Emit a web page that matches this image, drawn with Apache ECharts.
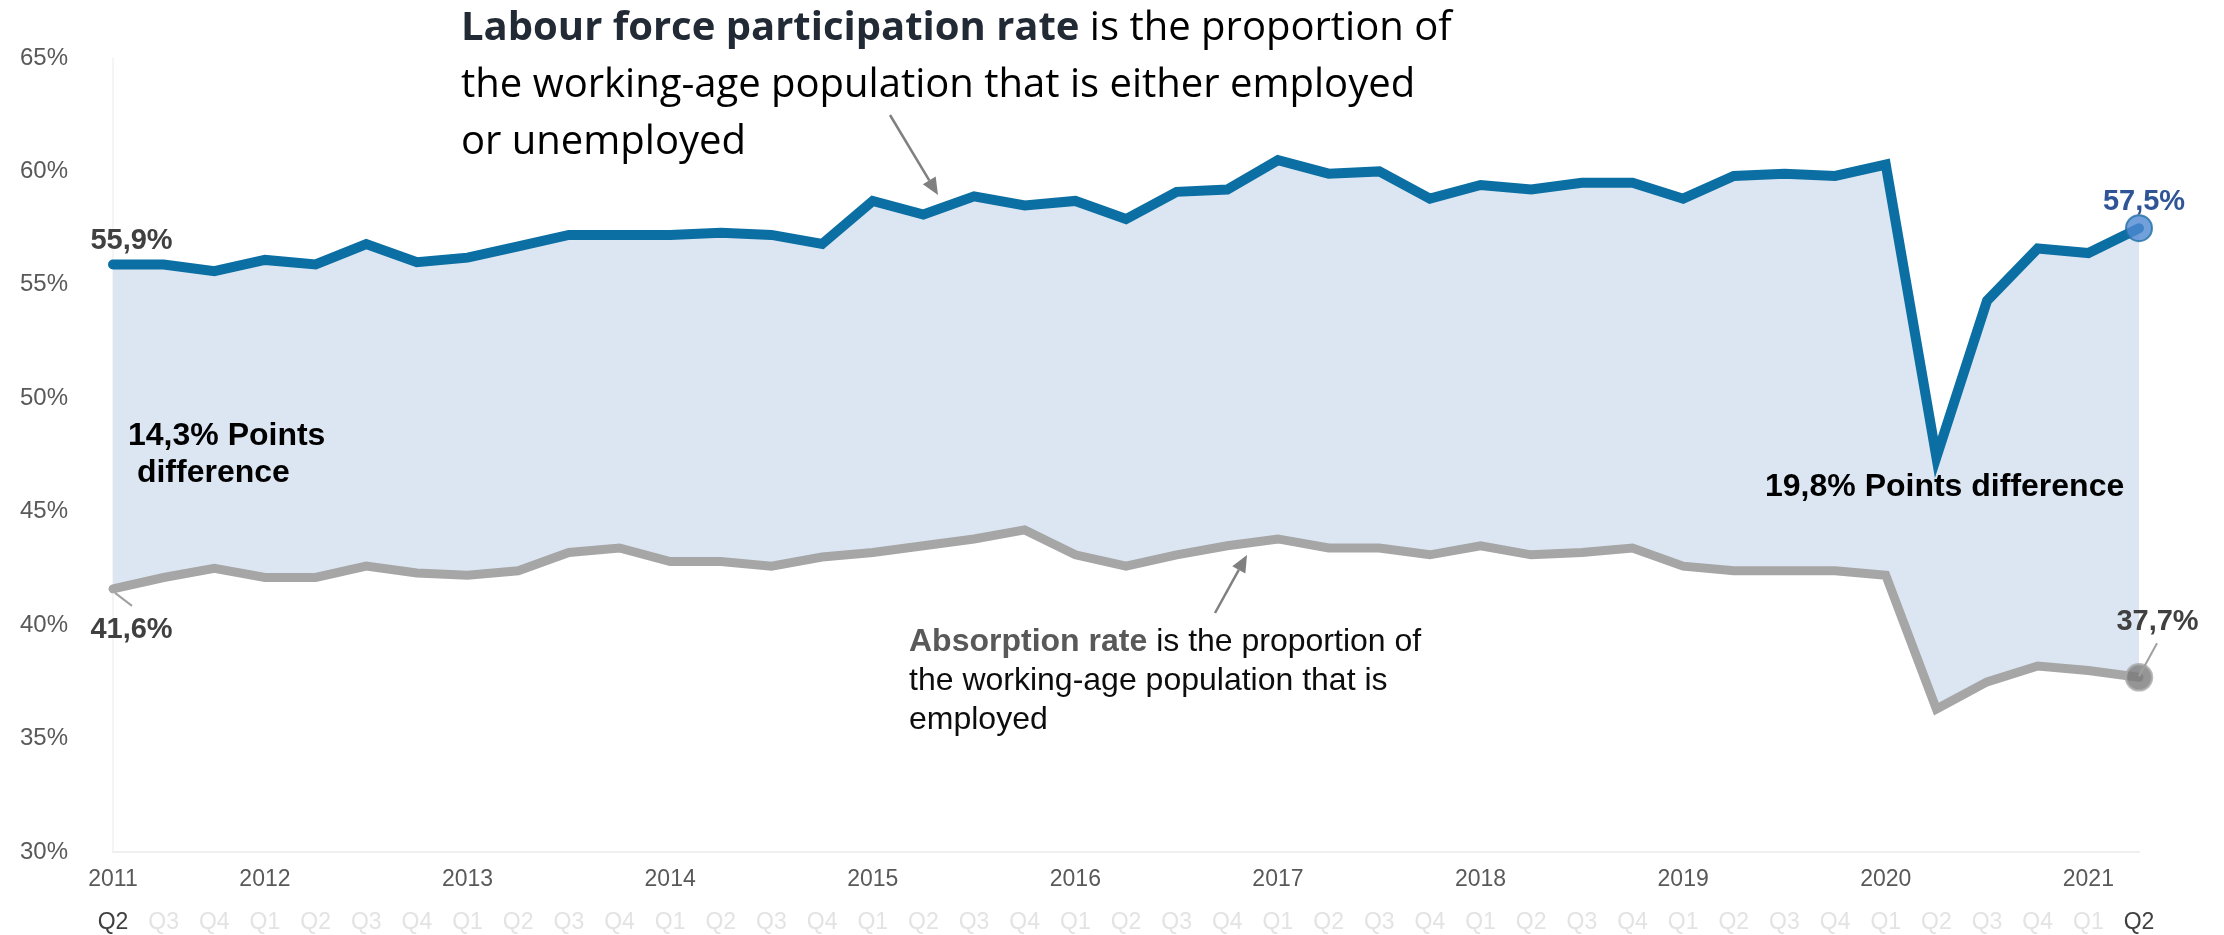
<!DOCTYPE html>
<html><head><meta charset="utf-8">
<script src="https://cdn.jsdelivr.net/npm/echarts@6/dist/echarts.min.js"></script>
<style>html,body{margin:0;padding:0;background:#fff}#c{width:2224px;height:935px}</style>
</head><body><div id="c"></div>
<script>
const categories = ['2011Q2','2011Q3','2011Q4',
  '2012Q1','2012Q2','2012Q3','2012Q4','2013Q1','2013Q2','2013Q3','2013Q4',
  '2014Q1','2014Q2','2014Q3','2014Q4','2015Q1','2015Q2','2015Q3','2015Q4',
  '2016Q1','2016Q2','2016Q3','2016Q4','2017Q1','2017Q2','2017Q3','2017Q4',
  '2018Q1','2018Q2','2018Q3','2018Q4','2019Q1','2019Q2','2019Q3','2019Q4',
  '2020Q1','2020Q2','2020Q3','2020Q4','2021Q1','2021Q2'];
const yearLabels = ['2011','','',
  '2012','','','','2013','','','','2014','','','','2015','','','',
  '2016','','','','2017','','','','2018','','','','2019','','','',
  '2020','','','','2021',''];
const quarterLabels = ['Q2','Q3','Q4',
  'Q1','Q2','Q3','Q4','Q1','Q2','Q3','Q4','Q1','Q2','Q3','Q4','Q1','Q2','Q3','Q4',
  'Q1','Q2','Q3','Q4','Q1','Q2','Q3','Q4','Q1','Q2','Q3','Q4','Q1','Q2','Q3','Q4',
  'Q1','Q2','Q3','Q4','Q1','Q2'];
const participationRate = [55.9, 55.9, 55.6, 56.1, 55.9, 56.8, 56.0, 56.2, 56.7, 57.2, 57.2,
  57.2, 57.3, 57.2, 56.8, 58.7, 58.1, 58.9, 58.5, 58.7, 57.9, 59.1, 59.2, 60.5, 59.9, 60.0,
  58.8, 59.4, 59.2, 59.5, 59.5, 58.8, 59.8, 59.9, 59.8, 60.3, 47.4, 54.3, 56.6, 56.4, 57.5];
const absorptionRate = [41.6, 42.1, 42.5, 42.1, 42.1, 42.6, 42.3, 42.2, 42.4, 43.2, 43.4,
  42.8, 42.8, 42.6, 43.0, 43.2, 43.5, 43.8, 44.2, 43.1, 42.6, 43.1, 43.5, 43.8, 43.4, 43.4,
  43.1, 43.5, 43.1, 43.2, 43.4, 42.6, 42.4, 42.4, 42.4, 42.2, 36.3, 37.5, 38.2, 38.0, 37.7];

const BLUE = '#0b6fa4', GREY = '#a6a6a6', FILL = '#dce6f2';
const FONT = '"Liberation Sans", Arial, sans-serif';
const TFONT = '"Open Sans", Lato, sans-serif';
const last = categories.length - 1;
const gap = participationRate.map((v, i) => +(v - absorptionRate[i]).toFixed(2));
const fmt = v => v.toFixed(1).replace('.', ',') + '%';

const chart = echarts.init(document.getElementById('c'), null, {renderer: 'canvas'});
chart.setOption({
  animation: false,
  backgroundColor: '#fff',
  grid: {left: 113, right: 85, top: 58, bottom: 83},
  xAxis: [{
    type: 'category', data: categories, boundaryGap: false,
    axisLine: {show: true, lineStyle: {color: '#efefef', width: 2}},
    axisTick: {show: false},
    splitLine: {show: false},
    axisLabel: {interval: 0, margin: 16, fontSize: 23, fontFamily: FONT, color: '#595959',
      formatter: (v, i) => yearLabels[i]}
  }, {
    type: 'category', data: categories, boundaryGap: false, position: 'bottom',
    axisLine: {show: false}, axisTick: {show: false}, splitLine: {show: false},
    axisLabel: {interval: 0, margin: 59, fontSize: 23, fontFamily: FONT,
      color: (v, i) => (i === 0 || i === last) ? '#404040' : '#e3e3e3',
      formatter: (v, i) => quarterLabels[i]}
  }],
  yAxis: {
    type: 'value', min: 30, max: 65, interval: 5,
    axisLine: {show: true, lineStyle: {color: '#f2f2f2', width: 1.5}},
    axisTick: {show: false}, splitLine: {show: false},
    axisLabel: {margin: 45, fontSize: 24, fontFamily: FONT, color: '#595959', formatter: '{value}%'}
  },
  series: [
    {name: 'base', type: 'line', data: absorptionRate, stack: 'band', symbol: 'none',
      lineStyle: {opacity: 0, width: 0}, silent: true, z: 1},
    {name: 'gap', type: 'line', data: gap, stack: 'band', symbol: 'none',
      lineStyle: {opacity: 0, width: 0}, areaStyle: {color: FILL, opacity: 1}, silent: true, z: 1},
    {name: 'Absorption rate', type: 'line', data: absorptionRate, symbol: 'none',
      lineStyle: {color: GREY, width: 9, cap: 'round', join: 'miter'}, z: 3},
    {name: 'Labour force participation rate', type: 'line', data: participationRate, symbol: 'none',
      lineStyle: {color: BLUE, width: 10, cap: 'round', join: 'miter'}, z: 4},
    {name: 'ends', type: 'scatter', symbol: 'circle', symbolSize: 26, z: 5,
      data: [
        {value: [categories[last], participationRate[last]], itemStyle: {color: '#4f88d2', borderColor: '#1f6fa5', borderWidth: 2}},
        {value: [categories[last], absorptionRate[last]], itemStyle: {color: '#7b7b7b', borderColor: '#a9a9a9', borderWidth: 2.5}}
      ]}
  ]
});

function px(cat, v) { return chart.convertToPixel({xAxisIndex: 0, yAxisIndex: 0}, [cat, v]); }
function arrow(x1, y1, x2, y2, color) {
  const dx = x2 - x1, dy = y2 - y1, L = Math.hypot(dx, dy), ux = dx / L, uy = dy / L;
  const hl = 17, hw = 7.5, bx = x2 - ux * hl, by = y2 - uy * hl;
  return [
    {type: 'line', z: 20, shape: {x1, y1, x2: bx, y2: by}, style: {stroke: color, lineWidth: 2.5}},
    {type: 'polygon', z: 20, shape: {points: [[x2, y2], [bx - uy * hw, by + ux * hw], [bx + uy * hw, by - ux * hw]]}, style: {fill: color}}
  ];
}
const pB0 = px(categories[0], participationRate[0]);
const pA0 = px(categories[0], absorptionRate[0]);
const pBL = px(categories[last], participationRate[last]);
const pAL = px(categories[last], absorptionRate[last]);
const valStyle = (txt, color) => ({text: txt, fill: color, font: 'bold 29px ' + FONT, align: 'center', verticalAlign: 'middle'});

const graphics = [
  {type: 'text', z: 20, x: 461, y: 0, style: {
    text: '{b|Labour force participation rate}{r| is the proportion of}\n{r|the working-age population that is either employed}\n{r|or unemployed}',
    font: '40px ' + TFONT, lineHeight: 57, verticalAlign: 'top',
    rich: {b: {fontWeight: 'bold', fill: '#222a35', fontSize: 40, fontFamily: TFONT, lineHeight: 57},
           r: {fill: '#000', fontSize: 40, fontFamily: TFONT, lineHeight: 57}}}},
  {type: 'text', z: 20, x: 909, y: 623, style: {
    text: '{b|Absorption rate}{r| is the proportion of}\n{r|the working-age population that is}\n{r|employed}',
    font: '32px ' + FONT, lineHeight: 39, verticalAlign: 'top',
    rich: {b: {fontWeight: 'bold', fill: '#595959', fontSize: 32, fontFamily: FONT, lineHeight: 39},
           r: {fill: '#0d0d0d', fontSize: 32, fontFamily: FONT, lineHeight: 39}}}},
  {type: 'text', z: 20, x: 128, y: 418, style: {
    text: fmt(gap[0]) + ' Points\n difference', font: 'bold 32px ' + FONT, lineHeight: 37,
    fill: '#000', verticalAlign: 'top'}},
  {type: 'text', z: 20, x: 1765, y: 487, style: {
    text: fmt(gap[last]) + ' Points difference', font: 'bold 32px ' + FONT,
    fill: '#000', verticalAlign: 'middle'}},
  {type: 'text', z: 20, x: pB0[0] + 18.5, y: pB0[1] - 23, style: valStyle(fmt(participationRate[0]), '#404040')},
  {type: 'text', z: 20, x: pA0[0] + 18.5, y: pA0[1] + 41, style: valStyle(fmt(absorptionRate[0]), '#404040')},
  {type: 'line', z: 20, shape: {x1: pA0[0] + 2, y1: pA0[1] + 4, x2: pA0[0] + 19, y2: pA0[1] + 17}, style: {stroke: '#a0a0a0', lineWidth: 2}},
  {type: 'text', z: 20, x: pBL[0] + 5, y: pBL[1] - 26, style: valStyle(fmt(participationRate[last]), '#2f5597')},
  {type: 'text', z: 20, x: pAL[0] + 18.5, y: pAL[1] - 55, style: valStyle(fmt(absorptionRate[last]), '#404040')},
  {type: 'line', z: 20, shape: {x1: pAL[0], y1: pAL[1] - 1, x2: pAL[0] + 18, y2: pAL[1] - 34}, style: {stroke: '#a0a0a0', lineWidth: 2}}
].concat(arrow(890, 115, 938, 195, '#808080'), arrow(1215, 613, 1247, 555, '#808080'));

chart.setOption({graphic: graphics});
</script>
</body></html>
